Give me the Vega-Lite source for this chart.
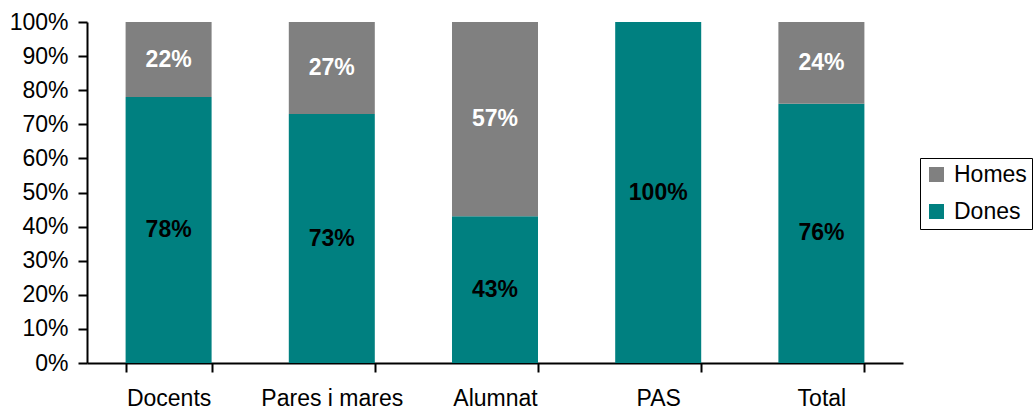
{
  "$schema": "https://vega.github.io/schema/vega-lite/v6.json",
  "width": 816,
  "height": 341,
  "autosize": {"type": "none"},
  "padding": {"left": 87, "top": 22, "right": 130, "bottom": 52},
  "background": "white",
  "config": {
    "view": {"stroke": null},
    "font": "Liberation Sans"
  },
  "data": {
    "values": [
      {"c": "Docents", "g": "Dones", "v": 0.78},
      {"c": "Docents", "g": "Homes", "v": 0.22},
      {"c": "Pares i mares", "g": "Dones", "v": 0.73},
      {"c": "Pares i mares", "g": "Homes", "v": 0.27},
      {"c": "Alumnat", "g": "Dones", "v": 0.43},
      {"c": "Alumnat", "g": "Homes", "v": 0.57},
      {"c": "PAS", "g": "Dones", "v": 1.0},
      {"c": "PAS", "g": "Homes", "v": 0.0},
      {"c": "Total", "g": "Dones", "v": 0.76},
      {"c": "Total", "g": "Homes", "v": 0.24}
    ]
  },
  "transform": [
    {"stack": "v", "groupby": ["c"], "sort": [{"field": "g", "order": "ascending"}], "as": ["y0", "y1"]},
    {"calculate": "(datum.y0 + datum.y1) / 2", "as": "ym"}
  ],
  "encoding": {
    "x": {
      "field": "c",
      "type": "nominal",
      "sort": null,
      "title": null,
      "scale": {"paddingInner": 0.473, "paddingOuter": 0.2365},
      "axis": {
        "labelAngle": 0,
        "labelFontSize": 23,
        "labelColor": "black",
        "labelPadding": 15,
        "tickBand": "extent",
        "tickSize": 9,
        "tickWidth": 2,
        "tickColor": "black",
        "domainColor": "black",
        "domainWidth": 2
      }
    }
  },
  "layer": [
    {
      "mark": {"type": "bar"},
      "encoding": {
        "y": {
          "field": "y0",
          "type": "quantitative",
          "title": null,
          "scale": {"domain": [0, 1], "nice": false},
          "axis": {
            "format": ".0%",
            "values": [0, 0.1, 0.2, 0.3, 0.4, 0.5, 0.6, 0.7, 0.8, 0.9, 1.0],
            "labelOverlap": false,
            "labelBound": false,
            "labelFlush": false,
            "grid": false,
            "labelFontSize": 23,
            "labelColor": "black",
            "labelPadding": 10,
            "tickSize": 9,
            "tickWidth": 2,
            "tickColor": "black",
            "domainColor": "black",
            "domainWidth": 2
          }
        },
        "y2": {"field": "y1"},
        "color": {
          "field": "g",
          "type": "nominal",
          "scale": {"domain": ["Homes", "Dones"], "range": ["#808080", "#008080"]},
          "legend": {
            "title": null,
            "orient": "none",
            "legendX": 833,
            "legendY": 136,
            "direction": "vertical",
            "symbolType": "square",
            "symbolSize": 225,
            "symbolStrokeWidth": 0,
            "labelFontSize": 23,
            "labelColor": "black",
            "labelOffset": 6,
            "rowPadding": 13,
            "padding": 5,
            "strokeColor": "black",
            "fillColor": "white"
          }
        }
      }
    },
    {
      "transform": [{"filter": "datum.v > 0"}],
      "mark": {"type": "text", "fontSize": 23, "fontWeight": "bold", "baseline": "middle", "align": "center"},
      "encoding": {
        "y": {
          "field": "ym",
          "type": "quantitative",
          "title": null,
          "axis": {
            "format": ".0%",
            "values": [0, 0.1, 0.2, 0.3, 0.4, 0.5, 0.6, 0.7, 0.8, 0.9, 1.0],
            "labelOverlap": false,
            "labelBound": false,
            "labelFlush": false,
            "grid": false,
            "labelFontSize": 23,
            "labelColor": "black",
            "labelPadding": 10,
            "tickSize": 9,
            "tickWidth": 2,
            "tickColor": "black",
            "domainColor": "black",
            "domainWidth": 2
          }
        },
        "text": {"field": "v", "type": "quantitative", "format": ".0%"},
        "color": {
          "condition": {"test": "datum.g === 'Homes'", "value": "white"},
          "value": "black"
        }
      }
    }
  ]
}
